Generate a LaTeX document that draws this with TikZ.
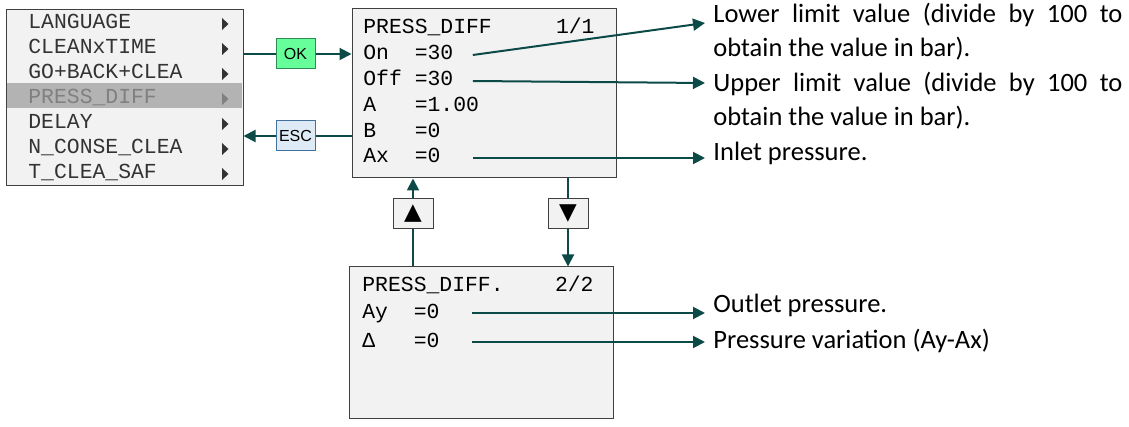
\documentclass[tikz,border=0pt]{standalone}
\usepackage{fontspec}
\setmainfont{Carlito}
\newfontfamily\lcdfont{Liberation Mono}
\newfontfamily\keyfont{Liberation Sans}
\newfontfamily\symbfont{DejaVu Sans}
\usetikzlibrary{arrows.meta,positioning}
\definecolor{linkc}{HTML}{0B4A46}
\definecolor{okfill}{HTML}{66FF99}
\definecolor{okdraw}{HTML}{2E8B57}
\definecolor{escfill}{HTML}{DEEBF7}
\definecolor{escdraw}{HTML}{41719C}
\definecolor{panel}{HTML}{F2F2F2}
\definecolor{rim}{HTML}{404040}
\definecolor{selband}{HTML}{B3B3B3}
\newcommand\lcdrow[1]{\makebox[54.5pt][l]{#1}}

\begin{document}
\begin{tikzpicture}[
  x=0.5pt, y=-0.5pt,
  screen/.style={draw=rim, fill=panel, line width=0.5pt, inner sep=0pt},
  lcd/.style={font=\fontsize{10.7}{12}\lcdfont, anchor=west, inner sep=0pt, text height=7pt, text depth=2pt},
  key/.style={draw, line width=0.5pt, minimum width=19.5pt, minimum height=15pt, inner sep=0pt, font=\fontsize{8}{9}\keyfont},
  navkey/.style={draw=rim, fill=panel, line width=0.5pt, minimum width=20pt, minimum height=15pt, inner sep=0pt, font=\fontsize{11.5}{12}\symbfont},
  note/.style={anchor=base west, inner sep=0pt, font=\fontsize{13.25}{17}\selectfont},
  link/.style={draw=linkc, line width=1pt},
  arrow/.style={link, -{Triangle[length=6pt,width=6pt]}}
]
\useasboundingbox (0,0) rectangle (1129,427);

% menu list
\node[screen, minimum width=118.5pt, minimum height=88pt] (menu) at (124.5,98) {};
\fill[selband] (6.6,83) rectangle (242.4,108);
\foreach \txt [count=\i] in {LANGUAGE, CLEANxTIME, GO+BACK+CLEA, PRESS\_DIFF, DELAY, N\_CONSE\_CLEA, T\_CLEA\_SAF} {
  \pgfmathsetmacro\yy{24+25*(\i-1)}
  \ifnum\i=4 \def\tc{gray}\else\def\tc{black!80}\fi
  \node[lcd, text=\tc] (m\i) at (28,\yy) {\txt};
  \fill[\tc] (222,\yy-6) -- (228.5,\yy) -- (222,\yy+6) -- cycle;
}

% page 1/1
\node[screen, minimum width=132pt, minimum height=84.5pt] (scr1) at (484,93.5) {};
\node[lcd] (t1) at (363,29) {PRESS\_DIFF~~~~~1/1};
\node[lcd] (on) at (363,55) {\lcdrow{On~~=30}};
\node[lcd] (off) at (363,81) {\lcdrow{Off~=30}};
\node[lcd] (pa) at (363,107) {\lcdrow{A~~~=1.00}};
\node[lcd] (pb) at (363,133) {\lcdrow{B~~~=0}};
\node[lcd] (ax) at (363,158) {\lcdrow{Ax~~=0}};

% page 2/2
\node[screen, minimum width=132pt, minimum height=75.5pt] (scr2) at (481,342.5) {};
\node[lcd] (t2) at (362,287) {PRESS\_DIFF.~~~~2/2};
\node[lcd] (ay) at (362,313) {\lcdrow{Ay~~=0}};
\node[lcd] (dl) at (362,342) {\lcdrow{Δ~~~=0}};

% keys
\node[key, draw=okdraw, fill=okfill] (ok) at (295.5,54) {OK};
\node[key, draw=escdraw, fill=escfill] (esc) at (295.5,136) {ESC};
\node[navkey] (up) at (413,214) {▲};
\node[navkey] (down) at (568,214) {▼};

% notes
\node[note] (lower) at (713,23) {\makebox[204.5pt][s]{Lower limit value (divide by 100 to}};
\node[note] (lower2) at (713,57) {obtain the value in bar).};
\node[note] (upper) at (713,92) {\makebox[204.5pt][s]{Upper limit value (divide by 100 to}};
\node[note] (upper2) at (713,126) {obtain the value in bar).};
\node[note] (inlet) at (713,161) {Inlet pressure.};
\node[note] (outlet) at (713,313) {Outlet pressure.};
\node[note] (pvar) at (713,348) {Pressure variation (Ay-Ax)};

\draw[link] (menu.east |- ok) -- (ok.west);
\draw[arrow] (ok.east) -- (scr1.west |- ok);
\draw[link] (scr1.west |- esc) -- (esc.east);
\draw[arrow] (esc.west) -- (menu.east |- esc);
\draw[link] (scr2.north -| up) -- (up.south);
\draw[arrow] (up.north) -- (scr1.south -| up);
\draw[link] (scr1.south -| down) -- (down.north);
\draw[arrow] (down.south) -- (scr2.north -| down);

\draw[arrow] (on.east) -- ([xshift=-4pt]lower.base west);
\draw[arrow] (off.east) -- ([xshift=-4pt,yshift=4.5pt]upper.base west);
\draw[arrow] (ax.east) -- ([xshift=-4pt,yshift=1.5pt]inlet.base west);
\draw[arrow] (ay.east) -- ([xshift=-4pt]outlet.base west);
\draw[arrow] (dl.east) -- ([xshift=-4pt,yshift=3pt]pvar.base west);
\end{tikzpicture}
\end{document}
